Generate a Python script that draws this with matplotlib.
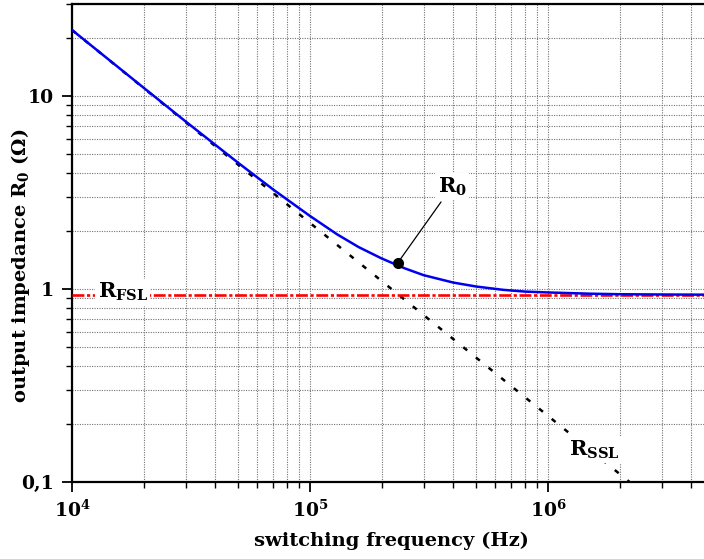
import matplotlib
matplotlib.use("Agg")
import matplotlib.pyplot as plt
from matplotlib.ticker import FixedLocator, FixedFormatter, LogLocator, NullFormatter

# ---- data ----
freq_hz = [1e4, 1.5e4, 2e4, 3e4, 5e4, 7e4, 1e5, 1.3e5, 1.6e5, 2e5, 2.5e5, 3e5,
           4e5, 5e5, 6.5e5, 8e5, 1e6, 1.5e6, 2e6, 3e6, 4.6e6]
r0_ohm = [22.0, 14.7, 11.04, 7.39, 4.50, 3.28, 2.39, 1.92, 1.65, 1.44, 1.28, 1.18,
          1.08, 1.03, 0.99, 0.97, 0.96, 0.946, 0.940, 0.937, 0.935]
ssl_freq = [1e4, 2.2e6]
ssl_ohm = [22.0, 0.1]
r_fsl = 0.934
marker_freq = 2.34e5
marker_r0 = 1.37
x_ticks = [1e4, 1e5, 1e6]
x_tick_labels = [r"$10^{4}$", r"$10^{5}$", r"$10^{6}$"]
y_ticks = [0.1, 1, 10]
y_tick_labels = ["0,1", "1", "10"]

plt.rcParams["font.family"] = ["DejaVu Serif"]
plt.rcParams["font.weight"] = "bold"
plt.rcParams["mathtext.fontset"] = "custom"
plt.rcParams["mathtext.rm"] = "DejaVu Serif:bold"
plt.rcParams["mathtext.it"] = "DejaVu Serif:bold"
plt.rcParams["mathtext.bf"] = "DejaVu Serif:bold"

fig = plt.figure(figsize=(7.04, 5.59), dpi=100)
ax = fig.add_axes([72 / 704, 77 / 559, 632 / 704, 478 / 559])
ax.set_xscale("log")
ax.set_yscale("log")
ax.set_xlim(1e4, 4.52e6)
ax.set_ylim(0.1, 30)

ax.grid(True, which="both", linestyle=(0, (1, 1.2)), color="0.45", linewidth=0.8)
ax.set_axisbelow(True)

ax.plot(ssl_freq, ssl_ohm, color="black", linestyle=(0, (2.0, 4.5)), linewidth=1.8, zorder=3)
ax.axhline(r_fsl, color="#ff0000", linestyle=(0, (4.5, 1.0, 1.2, 1.0)), linewidth=1.9, zorder=3)
ax.plot(freq_hz, r0_ohm, color="#0000ee", linewidth=1.8, zorder=4)
ax.plot([marker_freq], [marker_r0], "o", color="black", markersize=7, zorder=5)

ax.annotate(r"R$_0$", xy=(marker_freq, marker_r0), xytext=(3.95e5, 3.4),
            fontsize=15, ha="center", va="center",
            bbox=dict(boxstyle="square,pad=0.1", fc="white", ec="none"),
            arrowprops=dict(arrowstyle="-", color="black", lw=0.9, shrinkA=2, shrinkB=3),
            zorder=6)
ax.text(1.28e4, r_fsl * 1.03, r"R$_{\mathrm{FSL}}$", fontsize=15, ha="left", va="center",
        bbox=dict(boxstyle="square,pad=0.1", fc="white", ec="none"), zorder=6)
ax.text(1.57e6, 0.147, r"R$_{\mathrm{SSL}}$", fontsize=15, ha="center", va="center",
        bbox=dict(boxstyle="square,pad=0.1", fc="white", ec="none"), zorder=6)

ax.xaxis.set_major_locator(FixedLocator(x_ticks))
ax.xaxis.set_major_formatter(FixedFormatter(x_tick_labels))
ax.xaxis.set_minor_locator(LogLocator(base=10, subs=range(2, 10), numticks=20))
ax.xaxis.set_minor_formatter(NullFormatter())
ax.yaxis.set_major_locator(FixedLocator(y_ticks))
ax.yaxis.set_major_formatter(FixedFormatter(y_tick_labels))
ax.yaxis.set_minor_locator(LogLocator(base=10, subs=range(2, 10), numticks=20))
ax.yaxis.set_minor_formatter(NullFormatter())

ax.tick_params(which="major", direction="out", length=7, width=1.3, labelsize=13.5)
ax.tick_params(axis="x", which="major", pad=6)
ax.tick_params(axis="y", which="major", pad=6)
ax.tick_params(which="minor", direction="out", length=4, width=1.0)

for side in ("left", "bottom", "top"):
    ax.spines[side].set_linewidth(1.6)
ax.spines["right"].set_visible(False)

ax.set_xlabel("switching frequency (Hz)", fontsize=14, fontweight="bold")
ax.xaxis.set_label_coords(0.505, -0.105)
ax.set_ylabel(r"output impedance R$_0$ ($\Omega$)", fontsize=14, fontweight="bold")
ax.yaxis.set_label_coords(-0.064, 0.452)

fig.savefig("out.png", dpi=100)
